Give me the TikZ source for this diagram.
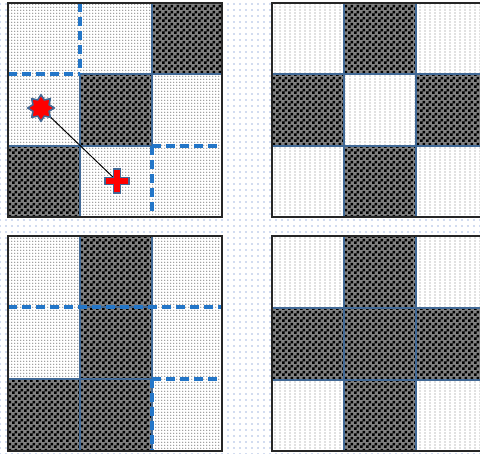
\documentclass[tikz,border=0pt]{standalone}
\usetikzlibrary{patterns,shapes.geometric}
\pgfdeclarepatternformonly{checker}{\pgfpointorigin}{\pgfqpoint{6pt}{6pt}}{\pgfqpoint{6pt}{6pt}}{%
  \pgfpathrectangle{\pgfpointorigin}{\pgfqpoint{3pt}{3pt}}%
  \pgfpathrectangle{\pgfqpoint{3pt}{3pt}}{\pgfqpoint{3pt}{3pt}}%
  \pgfusepath{fill}}
\pgfdeclarepatternformonly{finedots}{\pgfqpoint{-1pt}{-1pt}}{\pgfqpoint{2pt}{2pt}}{\pgfqpoint{3pt}{3pt}}{%
  \pgfpathcircle{\pgfpointorigin}{.7pt}\pgfusepath{fill}}
\pgfdeclarepatternformonly{coldots}{\pgfqpoint{-1pt}{-1pt}}{\pgfqpoint{4pt}{2pt}}{\pgfqpoint{5pt}{3pt}}{%
  \pgfpathcircle{\pgfpointorigin}{.7pt}\pgfusepath{fill}}
\pgfdeclarepatternformonly{bgdots}{\pgfqpoint{-1pt}{-1pt}}{\pgfqpoint{5pt}{5pt}}{\pgfqpoint{6pt}{6pt}}{%
  \pgfpathcircle{\pgfpointorigin}{.85pt}\pgfusepath{fill}}
\definecolor{cellblue}{RGB}{65,105,150}
\definecolor{dashblue}{RGB}{35,118,200}
\definecolor{bgblue}{RGB}{165,185,225}
\tikzset{
  darkcell/.style={preaction={fill=black!50}, pattern=checker, pattern color=black, draw=cellblue, line width=2pt},
  litecellA/.style={preaction={fill=white}, pattern=finedots, pattern color=gray},
  litecellB/.style={preaction={fill=white}, pattern=coldots, pattern color=gray},
  panelframe/.style={draw=black!85, line width=2.2pt},
  cutline/.style={draw=dashblue, line width=3.2pt, dash pattern=on 9pt off 5pt},
  link/.style={draw=black, line width=1pt},
  redstar/.style={star, star points=8, star point ratio=1.5, minimum size=26pt, inner sep=0pt, fill=red, draw=cellblue, line width=1.4pt},
  redplus/.style={fill=red, draw=cellblue, line width=1.6pt}
}
\begin{document}
\begin{tikzpicture}[x=1pt, y=-1pt]
\useasboundingbox (0,0) rectangle (480,454);
% background
\fill[white] (0,0) rectangle (480,454);
\fill[pattern=bgdots, pattern color=bgblue] (0,0) rectangle (480,454);

% ---------- Panel 1 (top-left) ----------
\path[litecellA] (8,3) rectangle (222,217);
\path[darkcell] (152,3) rectangle (222,74);
\path[darkcell] (80,74) rectangle (152,146);
\path[darkcell] (8,146) rectangle (80,217);
\draw[cutline] (80,3) -- (80,74);
\draw[cutline] (8,74) -- (80,74);
\draw[cutline] (152,146) -- (222,146);
\draw[cutline] (152,146) -- (152,217);
\draw[panelframe] (8,3) rectangle (222,217);
\node[redstar] (st) at (41,108) {};
\coordinate (pl) at (117,181);
\draw[link] (st.center) -- (pl);
\node[redstar] at (st) {};
\path[redplus, shift={(pl)}] (-12,-3.5) -- (-3.5,-3.5) -- (-3.5,-12) -- (3.5,-12) -- (3.5,-3.5) -- (12,-3.5) -- (12,3.5) -- (3.5,3.5) -- (3.5,12) -- (-3.5,12) -- (-3.5,3.5) -- (-12,3.5) -- cycle;

% ---------- Panel 2 (top-right) ----------
\path[litecellB] (272,3) rectangle (490,217);
\path[darkcell] (344,3) rectangle (416,74);
\path[darkcell] (272,74) rectangle (344,146);
\path[darkcell] (416,74) rectangle (490,146);
\path[darkcell] (344,146) rectangle (416,217);
\path[litecellB, draw=cellblue, line width=2pt] (344,74) rectangle (416,146);
\draw[panelframe] (490,3) -- (272,3) -- (272,217) -- (490,217);

% ---------- Panel 3 (bottom-left) ----------
\path[litecellA] (8,236) rectangle (222,451);
\path[darkcell] (80,236) rectangle (152,307);
\path[darkcell] (80,307) rectangle (152,379);
\path[darkcell] (8,379) rectangle (80,451);
\path[darkcell] (80,379) rectangle (152,451);
\draw[cutline] (8,307) -- (222,307);
\draw[cutline] (152,379) -- (222,379);
\draw[cutline] (152,379) -- (152,451);
\draw[panelframe] (8,236) rectangle (222,451);

% ---------- Panel 4 (bottom-right) ----------
\path[litecellB] (272,236) rectangle (490,451);
\path[darkcell] (344,236) rectangle (416,308);
\path[darkcell] (272,308) rectangle (344,380);
\path[darkcell] (344,308) rectangle (416,380);
\path[darkcell] (416,308) rectangle (490,380);
\path[darkcell] (344,380) rectangle (416,451);
\draw[panelframe] (490,236) -- (272,236) -- (272,451) -- (490,451);
\end{tikzpicture}
\end{document}
